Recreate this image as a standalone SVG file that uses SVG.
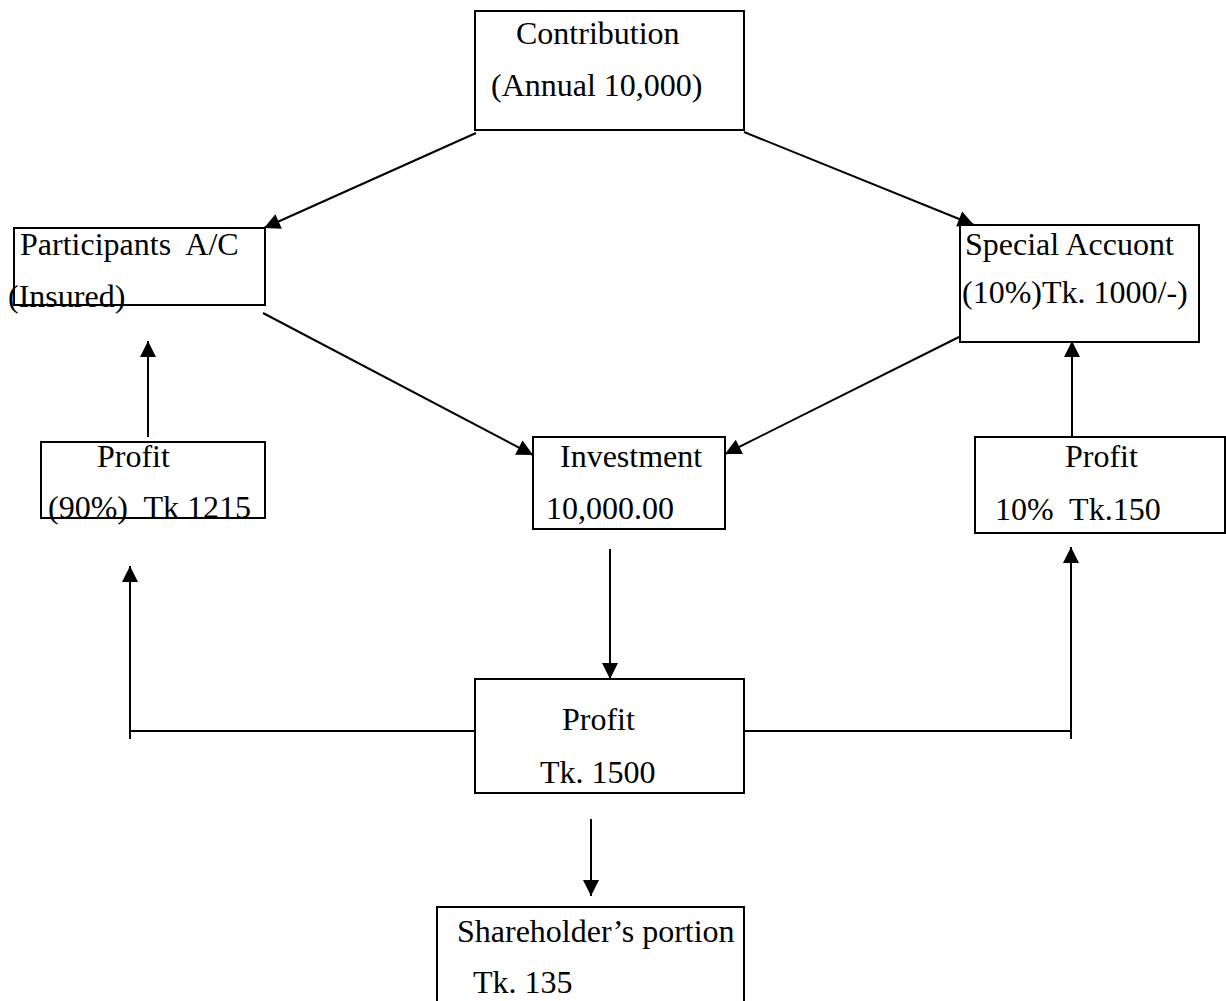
<svg xmlns="http://www.w3.org/2000/svg" width="1226" height="1001" viewBox="0 0 1226 1001">
  <style>
    .box { fill: #fff; stroke: #000; stroke-width: 2; }
    .lbl { font-family: "Liberation Serif", "Times New Roman", serif; font-size: 32px; fill: #000; }
    .con { fill: none; stroke: #000; stroke-width: 2; }
  </style>
  <defs>
    <marker id="ah" markerUnits="userSpaceOnUse" markerWidth="17" markerHeight="17" refX="16" refY="8" orient="auto" overflow="visible">
      <path d="M0,0 L16,8 L0,16 z" fill="#000"/>
    </marker>
  </defs>
  <rect width="1226" height="1001" fill="#fff"/>

  <g id="connectors">
    <line class="con" x1="476" y1="133" x2="264" y2="228" marker-end="url(#ah)"/>
    <line class="con" x1="744" y1="132" x2="974" y2="225" marker-end="url(#ah)"/>
    <line class="con" x1="263" y1="313" x2="533" y2="455" marker-end="url(#ah)"/>
    <line class="con" x1="959" y1="337" x2="725" y2="454" marker-end="url(#ah)"/>
    <line class="con" x1="148" y1="437" x2="148" y2="341" marker-end="url(#ah)"/>
    <line class="con" x1="1072" y1="437" x2="1072" y2="341" marker-end="url(#ah)"/>
    <line class="con" x1="610" y1="549" x2="610" y2="679" marker-end="url(#ah)"/>
    <line class="con" x1="475" y1="731" x2="130" y2="731"/>
    <line class="con" x1="130" y1="739" x2="130" y2="566" marker-end="url(#ah)"/>
    <line class="con" x1="744" y1="731" x2="1071" y2="731"/>
    <line class="con" x1="1071" y1="739" x2="1071" y2="547" marker-end="url(#ah)"/>
    <line class="con" x1="591" y1="819" x2="591" y2="896" marker-end="url(#ah)"/>
  </g>

  <g id="contribution">
    <rect class="box" x="475" y="11" width="269" height="119"/>
    <text class="lbl" x="516" y="44">Contribution</text>
    <text class="lbl" x="491" y="96">(Annual 10,000)</text>
  </g>

  <g id="participants">
    <rect class="box" x="14" y="228" width="251" height="77"/>
    <text class="lbl" x="20" y="255" xml:space="preserve">Participants  A/C</text>
    <text class="lbl" x="8" y="307">(Insured)</text>
  </g>

  <g id="special-account">
    <rect class="box" x="960" y="225" width="239" height="117"/>
    <text class="lbl" x="965" y="255">Special Accuont</text>
    <text class="lbl" x="962" y="303">(10%)Tk. 1000/-)</text>
  </g>

  <g id="profit-90">
    <rect class="box" x="41" y="442" width="224" height="76"/>
    <text class="lbl" x="97" y="467">Profit</text>
    <text class="lbl" x="48" y="518" xml:space="preserve">(90%)  Tk 1215</text>
  </g>

  <g id="investment">
    <rect class="box" x="533" y="437" width="192" height="92"/>
    <text class="lbl" x="560" y="467">Investment</text>
    <text class="lbl" x="546" y="519">10,000.00</text>
  </g>

  <g id="profit-10">
    <rect class="box" x="975" y="437" width="250" height="96"/>
    <text class="lbl" x="1065" y="467">Profit</text>
    <text class="lbl" x="995" y="520" xml:space="preserve">10%  Tk.150</text>
  </g>

  <g id="profit-total">
    <rect class="box" x="475" y="679" width="269" height="114"/>
    <text class="lbl" x="562" y="730">Profit</text>
    <text class="lbl" x="540" y="783">Tk. 1500</text>
  </g>

  <g id="shareholder">
    <rect class="box" x="437" y="907" width="307" height="110"/>
    <text class="lbl" x="457" y="942">Shareholder’s portion</text>
    <text class="lbl" x="473" y="993">Tk. 135</text>
  </g>
</svg>
